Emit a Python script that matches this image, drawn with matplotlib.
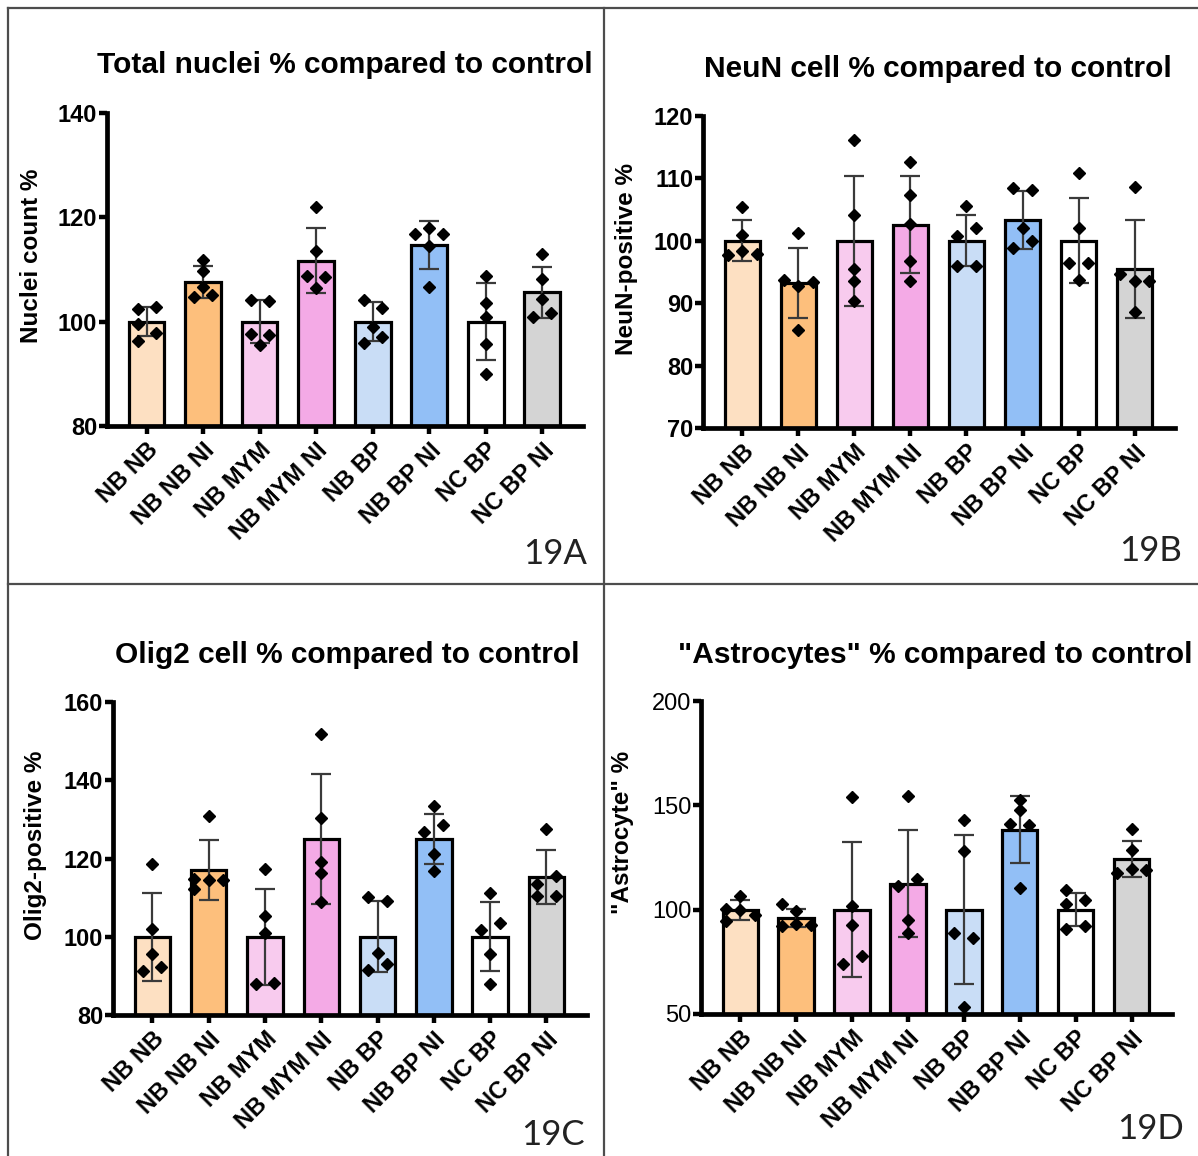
import matplotlib
matplotlib.use("Agg")
import matplotlib.pyplot as plt
from matplotlib.lines import Line2D
import numpy as np

W, H, DPI = 1198, 1156, 100

GROUPS = ["NB NB", "NB NB NI", "NB MYM", "NB MYM NI",
          "NB BP", "NB BP NI", "NC BP", "NC BP NI"]
BAR_COLORS = ["#fde0c2", "#fdbf7c", "#f8cbee", "#f4aae6",
              "#c9ddf6", "#92bff6", "#ffffff", "#d4d4d4"]

# 19A total nuclei
nuclei_mean = [100, 107.6, 100, 111.7, 100, 114.7, 100, 105.6]
nuclei_sd = [2.8, 3.05, 4.1, 6.2, 3.7, 4.55, 7.35, 4.9]
nuclei_pts = [
    [102.4, 102.8, 99.6, 97.9, 96.2],
    [111.9, 109.8, 106.7, 104.7, 105.1],
    [104.2, 104.0, 97.6, 97.5, 95.6],
    [121.9, 113.5, 108.7, 108.5, 106.4],
    [104.2, 102.7, 99.0, 97.0, 95.9],
    [116.9, 117.9, 116.9, 114.6, 106.7],
    [108.8, 103.5, 100.8, 95.7, 89.9],
    [113.0, 108.1, 104.4, 100.8, 101.7],
]
nuclei_dx = [
    [-.16, .16, -.16, .16, -.16],
    [0, 0, 0, -.16, .16],
    [-.16, .16, -.16, .16, 0],
    [0, 0, -.16, .16, 0],
    [-.16, .16, 0, .16, -.16],
    [-.25, 0, .25, 0, 0],
    [0, 0, 0, 0, 0],
    [0, 0, 0, -.16, .16],
]

# 19B NeuN
neun_mean = [100, 93.3, 100, 102.6, 100, 103.4, 100, 95.5]
neun_sd = [3.3, 5.6, 10.4, 7.75, 4.1, 4.65, 6.8, 7.8]
neun_pts = [
    [105.4, 100.9, 98.3, 97.7, 97.9],
    [101.2, 93.7, 92.8, 93.4, 85.7],
    [116.1, 104.2, 95.5, 93.6, 90.4],
    [112.7, 107.4, 102.7, 96.8, 93.6],
    [105.5, 100.8, 102.0, 95.9, 95.9],
    [108.5, 108.2, 102.0, 99.9, 98.8],
    [110.8, 102.0, 96.5, 96.5, 93.7],
    [108.7, 94.7, 93.5, 93.5, 88.6],
]
neun_dx = [
    [0, 0, 0, -.26, .26],
    [0, -.26, 0, .26, 0],
    [0, 0, 0, 0, 0],
    [0, 0, 0, 0, 0],
    [0, -.17, .17, -.17, .17],
    [-.17, .17, 0, .17, -.17],
    [0, 0, -.17, .17, 0],
    [0, -.26, 0, .26, 0],
]

# 19C Olig2
olig_mean = [100, 117.1, 100, 125.0, 100, 125.0, 100, 115.3]
olig_sd = [11.25, 7.65, 12.3, 16.6, 9.05, 6.4, 8.8, 7.0]
olig_pts = [
    [118.5, 102.1, 95.7, 91.2, 92.3],
    [130.8, 114.7, 114.4, 114.4, 112.2],
    [117.4, 105.2, 101.0, 88.0, 88.2],
    [151.7, 130.3, 119.2, 116.4, 109.0],
    [110.2, 109.2, 95.8, 93.1, 91.6],
    [133.4, 126.7, 128.5, 121.2, 116.9],
    [111.2, 101.6, 103.5, 95.7, 88.0],
    [127.5, 115.4, 113.4, 110.5, 110.5],
]
olig_dx = [
    [0, 0, 0, -.16, .16],
    [0, -.26, 0, .26, -.26],
    [0, 0, 0, -.16, .16],
    [0, 0, 0, 0, 0],
    [-.17, .17, 0, .17, -.17],
    [0, -.17, .17, 0, 0],
    [0, -.17, .17, 0, 0],
    [0, .17, -.17, -.17, .17],
]

# 19D "astrocytes"
astro_mean = [100, 96.0, 100, 112.4, 100, 138.3, 100, 124.2]
astro_sd = [4.8, 4.3, 32.2, 25.65, 35.65, 16.0, 8.0, 8.65]
astro_pts = [
    [106.5, 100.5, 100.0, 97.5, 94.5],
    [102.6, 99.4, 92.2, 93.1, 92.8],
    [154.0, 101.6, 92.5, 77.6, 74.1],
    [154.5, 111.2, 114.7, 95.2, 88.8],
    [142.8, 128.1, 88.8, 86.3, 53.4],
    [152.6, 147.8, 141.2, 140.4, 110.4],
    [109.3, 102.9, 104.5, 90.7, 92.0],
    [138.5, 128.8, 119.6, 117.6, 118.9],
]
astro_dx = [
    [0, -.26, 0, .26, -.26],
    [-.26, 0, -.26, 0, .26],
    [0, 0, 0, .17, -.17],
    [0, -.17, .17, 0, 0],
    [0, 0, -.17, .17, 0],
    [0, 0, -.17, .17, 0],
    [-.17, -.17, .17, -.17, .17],
    [0, 0, 0, -.26, .26],
]

SANS = "Liberation Sans"
TAG_FONT = "Lato"


def px_rect(left, top, right, bottom):
    return [left / W, 1 - bottom / H, (right - left) / W, (bottom - top) / H]


def fig_text(fig, x, y, s, **kw):
    fig.text(x / W, 1 - y / H, s, **kw)


def draw_panel(fig, box, mean, sd, pts, dx, ylim, yticks, tick_family=SANS,
               tick_weight="bold"):
    ax = fig.add_axes(px_rect(*box))
    x = np.arange(len(GROUPS))
    ax.bar(x, mean, width=0.63, color=BAR_COLORS, edgecolor="black",
           linewidth=2.3, zorder=2)
    ax.errorbar(x, mean, yerr=sd, fmt="none", ecolor="#3a3a3a",
                elinewidth=1.6, capsize=7, capthick=1.6, zorder=3)
    for i, (vals, offs) in enumerate(zip(pts, dx)):
        ax.plot(i + np.asarray(offs), vals, "D", color="black",
                markersize=6.5, zorder=4, clip_on=False)
    ax.set_xlim(-0.70, len(GROUPS) - 0.28)
    ax.set_ylim(*ylim)
    ax.set_yticks(yticks)
    ax.set_xticks(x)
    ax.set_xticklabels(GROUPS, rotation=45, ha="right",
                       rotation_mode="anchor", fontsize=17,
                       fontweight="bold", family=SANS)
    for lab in ax.get_yticklabels():
        lab.set_family(tick_family)
        lab.set_fontweight(tick_weight)
        lab.set_fontsize(17)
    for side in ("top", "right"):
        ax.spines[side].set_visible(False)
    for side in ("left", "bottom"):
        ax.spines[side].set_linewidth(3.4)
        ax.spines[side].set_capstyle("projecting")
    ax.tick_params(axis="both", direction="out", length=6, width=3.2,
                   color="black")
    ax.tick_params(axis="y", pad=1)
    ax.tick_params(axis="x", pad=3)
    ax.patch.set_alpha(0)
    return ax


fig = plt.figure(figsize=(W / DPI, H / DPI), dpi=DPI)

# panel frame lines
frame_kw = dict(color="#4d4d4d", linewidth=1.6, transform=fig.transFigure)
fig.add_artist(Line2D([8 / W, 8 / W], [0, 1 - 8 / H], **frame_kw))
fig.add_artist(Line2D([8 / W, 1], [1 - 8 / H, 1 - 8 / H], **frame_kw))
fig.add_artist(Line2D([604 / W, 604 / W], [0, 1 - 8 / H], **frame_kw))
fig.add_artist(Line2D([8 / W, 1], [1 - 584 / H, 1 - 584 / H], **frame_kw))

draw_panel(fig, (107, 113, 583, 426), nuclei_mean, nuclei_sd, nuclei_pts,
           nuclei_dx, (80, 140), [80, 100, 120, 140])
draw_panel(fig, (703, 116, 1175, 428), neun_mean, neun_sd, neun_pts,
           neun_dx, (70, 120), [70, 80, 90, 100, 110, 120])
draw_panel(fig, (113, 702, 587, 1015), olig_mean, olig_sd, olig_pts,
           olig_dx, (80, 160), [80, 100, 120, 140, 160])
draw_panel(fig, (701, 701, 1172, 1014), astro_mean, astro_sd, astro_pts,
           astro_dx, (50, 200), [50, 100, 150, 200],
           tick_family=["Liberation Sans Narrow", SANS], tick_weight="normal")

title_kw = dict(fontsize=21.5, fontweight="bold", family=SANS,
                ha="center", va="center")
fig_text(fig, 345, 65, "Total nuclei % compared to control", **title_kw)
fig_text(fig, 938, 69, "NeuN cell % compared to control", **title_kw)
fig_text(fig, 347, 655, "Olig2 cell % compared to control", **title_kw)
fig_text(fig, 935, 655, '"Astrocytes" % compared to control', **title_kw)

ylab_kw = dict(fontsize=17.5, fontweight="bold", family=SANS,
               rotation=90, ha="center", va="center")
fig_text(fig, 32, 256, "Nuclei count %", **ylab_kw)
fig_text(fig, 627, 259, "NeuN-positive %", **ylab_kw)
fig_text(fig, 36, 845, "Olig2-positive %", **ylab_kw)
fig_text(fig, 623, 832, '"Astrocyte" %', **ylab_kw)

tag_kw = dict(fontsize=25, family=TAG_FONT, color="#222222",
              ha="center", va="center")
fig_text(fig, 555, 554, "19A", **tag_kw)
fig_text(fig, 1151, 551, "19B", **tag_kw)
fig_text(fig, 553, 1135, "19C", **tag_kw)
fig_text(fig, 1151, 1129, "19D", **tag_kw)

fig.savefig("out.png", dpi=DPI)
